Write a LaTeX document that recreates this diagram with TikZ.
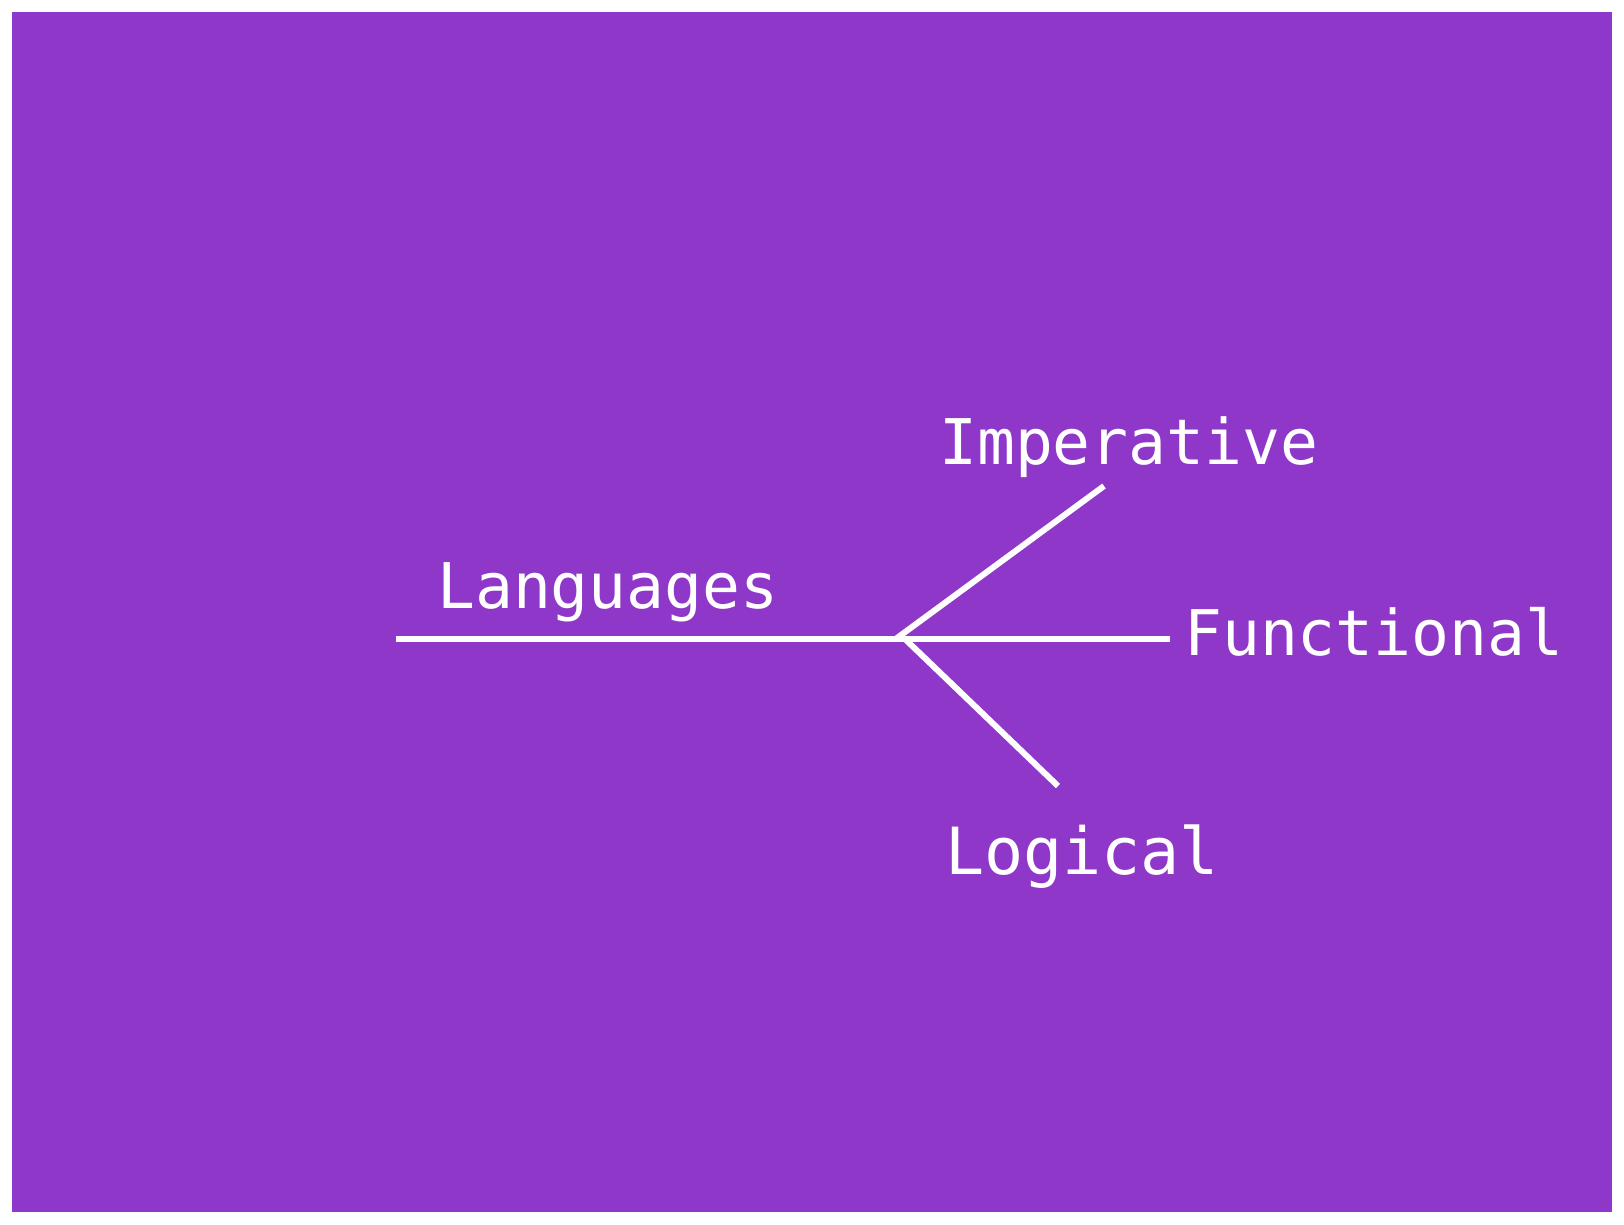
\documentclass[tikz,border=0pt]{standalone}
\usepackage{fontspec}
\setmonofont{DejaVu Sans Mono}
\definecolor{bgpurple}{HTML}{8F37C9}
\begin{document}
\begin{tikzpicture}[x=1pt,y=-1pt,
  lbl/.style={inner sep=0pt, anchor=base west, text=white, font=\ttfamily\fontsize{63}{63}\selectfont},
  branch/.style={draw=white, line width=6pt}]
\useasboundingbox (0,0) rectangle (1624,1224);
\fill[white] (0,0) rectangle (1624,1224);
\fill[bgpurple] (12,12) rectangle (1612,1212);
% coordinates
\coordinate (start) at (396,639);
\coordinate (hubA) at (897,638);
\coordinate (hubB) at (905,639);
\coordinate (endF) at (1170,639);
\coordinate (endI) at (1104,486);
\coordinate (endL) at (1058,786);
% lines
\draw[branch] (start) -- (endF);
\draw[branch] (hubA) -- (endI);
\draw[branch] (hubB) -- (endL);
% labels
\node[lbl] (lang) at (437,608) {Languages};
\node[lbl] (imp) at (939,464) {Imperative};
\node[lbl] (func) at (1184,655) {Functional};
\node[lbl, font=\ttfamily\fontsize{65}{65}\selectfont] (logi) at (945,874) {Logical};
\end{tikzpicture}
\end{document}
